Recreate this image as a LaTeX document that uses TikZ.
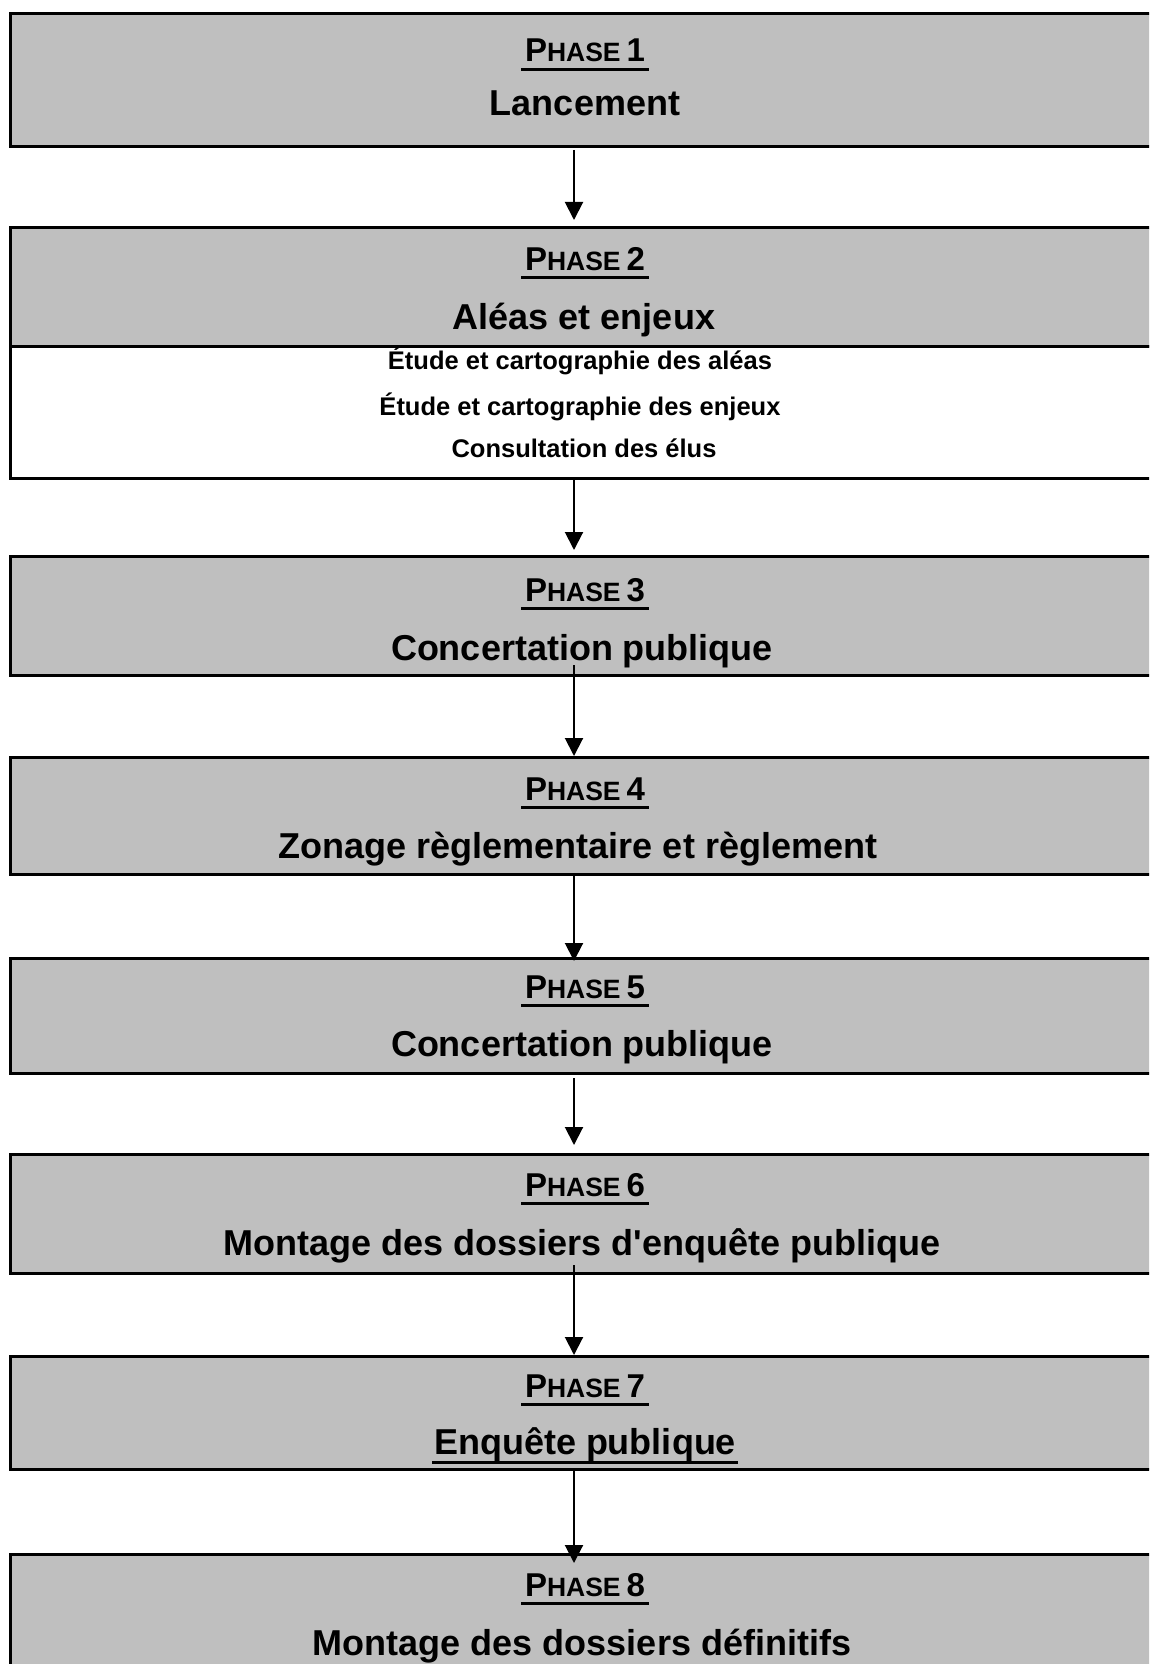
\documentclass[tikz,border=0pt]{standalone}
\usepackage{fontspec}
\setmainfont{Liberation Sans}
\usetikzlibrary{arrows.meta}
\definecolor{boxgrey}{gray}{0.75}
\newcommand\phaselbl[1]{\setbox0=\hbox{\fontsize{33}{33}\selectfont P\fontsize{26.5}{26.5}\selectfont HASE\hspace{6pt}\fontsize{33}{33}\selectfont #1}\rlap{\hspace{-4pt}\raisebox{-9pt}{\rule{\dimexpr\wd0+8pt\relax}{3pt}}}\box0}
\newcommand\ulttl[1]{\setbox0=\hbox{#1}\rlap{\hspace{-2pt}\raisebox{-10pt}{\rule{\dimexpr\wd0+4pt\relax}{3pt}}}\box0}
\tikzset{
  phbox/.style={draw=black, line width=3pt, fill=boxgrey, rectangle, anchor=north west, minimum width=1175pt, inner sep=0pt},
  whbox/.style={phbox, fill=white},
  phlabel/.style={anchor=base, inner sep=0pt, font=\bfseries},
  ttl/.style={anchor=base, inner sep=0pt, font=\fontsize{36}{36}\selectfont\bfseries},
  itm/.style={anchor=base, inner sep=0pt, font=\fontsize{25.5}{25.5}\selectfont\bfseries},
  arr/.style={line width=2pt, -{Triangle[width=18pt,length=18pt]}},
}
\begin{document}
\begin{tikzpicture}[x=1pt,y=-1pt]
\useasboundingbox (0,0) rectangle (1149,1664);
\clip (0,0) rectangle (1149,1664);
\fill[white] (0,0) rectangle (1149,1664);
\coordinate (ax) at (574,0);
% boxes
\node[phbox, minimum height=133pt] (b1) at (8.5,12) {};
\node[phbox, minimum height=119pt] (b2) at (8.5,226) {};
\node[whbox, minimum height=132pt] (b2w) at (8.5,345) {};
\node[phbox, minimum height=119pt] (b3) at (8.5,555) {};
\node[phbox, minimum height=117pt] (b4) at (8.5,756) {};
\node[phbox, minimum height=115pt] (b5) at (8.5,957) {};
\node[phbox, minimum height=119pt] (b6) at (8.5,1153) {};
\node[phbox, minimum height=113pt] (b7) at (8.5,1355) {};
\node[phbox, minimum height=200pt] (b8) at (8.5,1553) {};
% texts
\node[phlabel] (p1) at (585,62) {\phaselbl{1}};
\node[ttl] (t1) at (585,116) {Lancement};
\node[phlabel] (p2) at (585,270) {\phaselbl{2}};
\node[ttl] (t2) at (584,329) {Aléas et enjeux};
\node[itm] (i1) at (580,369) {Étude et cartographie des aléas};
\node[itm] (i2) at (580,415) {Étude et cartographie des enjeux};
\node[itm] (i3) at (584,457) {Consultation des élus};
\node[phlabel] (p3) at (585,601) {\phaselbl{3}};
\node[ttl] (t3) at (582,660) {Concertation publique};
\node[phlabel] (p4) at (585,800) {\phaselbl{4}};
\node[ttl] (t4) at (578,858) {Zonage règlementaire et règlement};
\node[phlabel] (p5) at (585,998) {\phaselbl{5}};
\node[ttl] (t5) at (582,1056) {Concertation publique};
\node[phlabel] (p6) at (585,1196) {\phaselbl{6}};
\node[ttl] (t6) at (582,1255) {Montage des dossiers d\textquotesingle enquête publique};
\node[phlabel] (p7) at (585,1397) {\phaselbl{7}};
\node[ttl] (t7) at (585,1454) {\ulttl{Enquête publique}};
\node[phlabel] (p8) at (585,1596) {\phaselbl{8}};
\node[ttl] (t8) at (582,1655) {Montage des dossiers définitifs};
% arrows
\draw[arr, shorten <=2pt, shorten >=6pt] (b1.south -| ax) -- (b2.north -| ax);
\draw[arr, shorten >=5pt] (b2w.south -| ax) -- (b3.north -| ax);
\draw[arr, shorten <=-12pt] (b3.south -| ax) -- (b4.north -| ax);
\draw[arr, shorten >=-4pt] (b4.south -| ax) -- (b5.north -| ax);
\draw[arr, shorten <=3pt, shorten >=8pt] (b5.south -| ax) -- (b6.north -| ax);
\draw[arr, shorten <=-10pt] (b6.south -| ax) -- (b7.north -| ax);
\draw[arr, shorten >=-10pt] (b7.south -| ax) -- (b8.north -| ax);
\end{tikzpicture}
\end{document}
